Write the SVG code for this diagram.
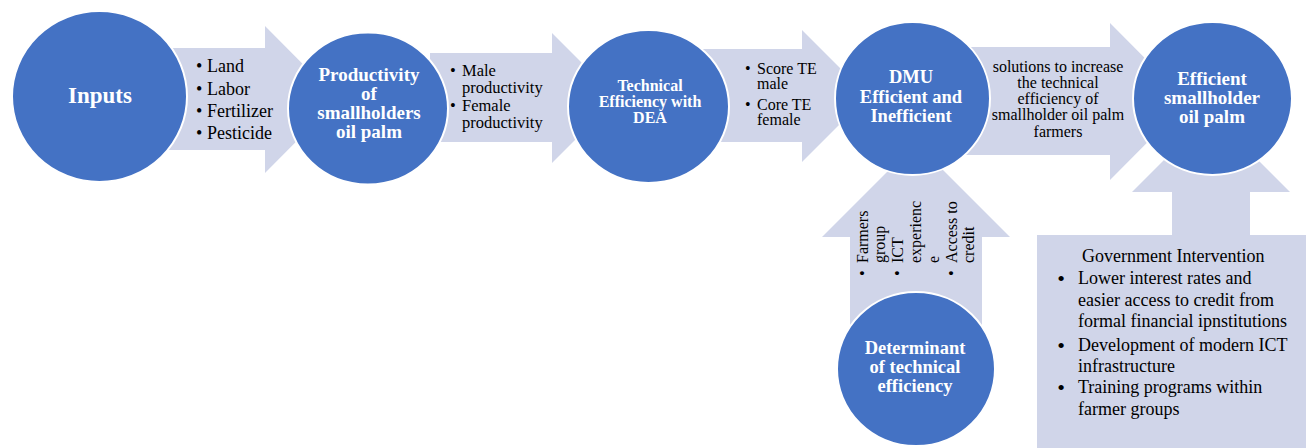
<svg xmlns="http://www.w3.org/2000/svg" width="1306" height="448" viewBox="0 0 1306 448">
<style>
.arr{fill:#D0D5E9;}
.node{fill:#4472C4;stroke:#FFFFFF;stroke-width:2;}
.nt{font-family:"Liberation Serif","Times New Roman",serif;font-weight:bold;fill:#FFFFFF;text-anchor:middle;}
.at{font-family:"Liberation Serif","Times New Roman",serif;fill:#000000;}
</style>
<rect width="1306" height="448" fill="#FFFFFF"/>
<g id="connectors">
  <polygon class="arr" points="150,48 265,48 265,26 338,99.5 265,173 265,150 150,150"/>
  <polygon class="arr" points="430,53 552,53 552,33 617,98 552,163 552,142 430,142"/>
  <polygon class="arr" points="700,49 802,49 802,30 868,96 802,162 802,142 700,142"/>
  <polygon class="arr" points="960,47 1110,47 1110,23 1188,101.5 1110,180 1110,155 960,155"/>
  <polygon class="arr" points="1172,240 1172,192 1132,192 1211,113 1290,192 1250,192 1250,240"/>
  <polygon class="arr" points="850,330 850,237 822,237 916,143 1010,237 982,237 982,330"/>
  <g class="at" font-size="18">
    <text x="196" y="72">•</text><text x="207" y="72">Land</text>
    <text x="196" y="95">•</text><text x="207" y="95">Labor</text>
    <text x="196" y="117">•</text><text x="207" y="117">Fertilizer</text>
    <text x="196" y="139">•</text><text x="207" y="139">Pesticide</text>
  </g>
  <g class="at" font-size="16.5">
    <text x="450" y="76">•</text><text x="462" y="76">Male</text>
    <text x="462" y="92.5">productivity</text>
    <text x="450" y="111">•</text><text x="462" y="111">Female</text>
    <text x="462" y="127.5">productivity</text>
  </g>
  <g class="at" font-size="16">
    <text x="745" y="74">•</text><text x="757" y="74">Score TE</text>
    <text x="757" y="89">male</text>
    <text x="745" y="110">•</text><text x="757" y="110">Core TE</text>
    <text x="757" y="125">female</text>
  </g>
  <g class="at" font-size="16" text-anchor="middle">
    <text x="1058" y="72">solutions to increase</text>
    <text x="1058" y="88">the technical</text>
    <text x="1058" y="104">efficiency of</text>
    <text x="1058" y="120">smallholder oil palm</text>
    <text x="1058" y="137">farmers</text>
  </g>
  <g class="at" font-size="16" transform="translate(850,278) rotate(-90)">
    <text x="2" y="17.5">•</text><text x="15" y="17.5">Farmers</text>
    <text x="15" y="35.3">group</text>
    <text x="2" y="53.1">•</text><text x="15" y="53.1">ICT</text>
    <text x="15" y="70.9">experienc</text>
    <text x="15" y="88.7">e</text>
    <text x="2" y="106.5">•</text><text x="15" y="106.5">Access to</text>
    <text x="15" y="124.3">credit</text>
  </g>
</g>
<g id="gov">
  <rect class="arr" x="1037" y="235" width="269" height="213"/>
  <g class="at" font-size="18">
    <text x="1082" y="262">Government Intervention</text>
    <text x="1061" y="286" text-anchor="middle" font-size="22">•</text><text x="1078" y="284">Lower interest rates and</text>
    <text x="1078" y="306">easier access to credit from</text>
    <text x="1078" y="327.3">formal financial ipnstitutions</text>
    <text x="1061" y="352.7" text-anchor="middle" font-size="22">•</text><text x="1078" y="350.7">Development of modern ICT</text>
    <text x="1078" y="371.7">infrastructure</text>
    <text x="1061" y="395.3" text-anchor="middle" font-size="22">•</text><text x="1078" y="393.3">Training programs within</text>
    <text x="1078" y="415">farmer groups</text>
  </g>
</g>
<g id="n1">
  <ellipse class="node" cx="99.5" cy="96.5" rx="87.5" ry="85.5"/>
  <text class="nt" x="100" y="103" font-size="23">Inputs</text>
</g>
<g id="n2">
  <ellipse class="node" cx="368" cy="108.5" rx="80" ry="76"/>
  <g class="nt" font-size="19">
    <text x="369" y="81">Productivity</text>
    <text x="369" y="100">of</text>
    <text x="369" y="119">smallholders</text>
    <text x="369" y="138">oil palm</text>
  </g>
</g>
<g id="n3">
  <ellipse class="node" cx="648.5" cy="106.5" rx="80.5" ry="76.5"/>
  <g class="nt" font-size="16">
    <text x="650" y="91">Technical</text>
    <text x="650" y="107">Efficiency with</text>
    <text x="650" y="123">DEA</text>
  </g>
</g>
<g id="n4">
  <ellipse class="node" cx="912.5" cy="98.5" rx="77.5" ry="76.5"/>
  <g class="nt" font-size="18.5">
    <text x="911" y="83">DMU</text>
    <text x="911" y="103">Efficient and</text>
    <text x="911" y="122">Inefficient</text>
  </g>
</g>
<g id="n5">
  <ellipse class="node" cx="1212.5" cy="98.5" rx="79.5" ry="76.5"/>
  <g class="nt" font-size="19">
    <text x="1212" y="85">Efficient</text>
    <text x="1212" y="104">smallholder</text>
    <text x="1212" y="123">oil palm</text>
  </g>
</g>
<g id="n6">
  <ellipse class="node" cx="916" cy="369" rx="79" ry="77"/>
  <g class="nt" font-size="18.5">
    <text x="915" y="354">Determinant</text>
    <text x="915" y="373">of technical</text>
    <text x="915" y="392">efficiency</text>
  </g>
</g>
</svg>
